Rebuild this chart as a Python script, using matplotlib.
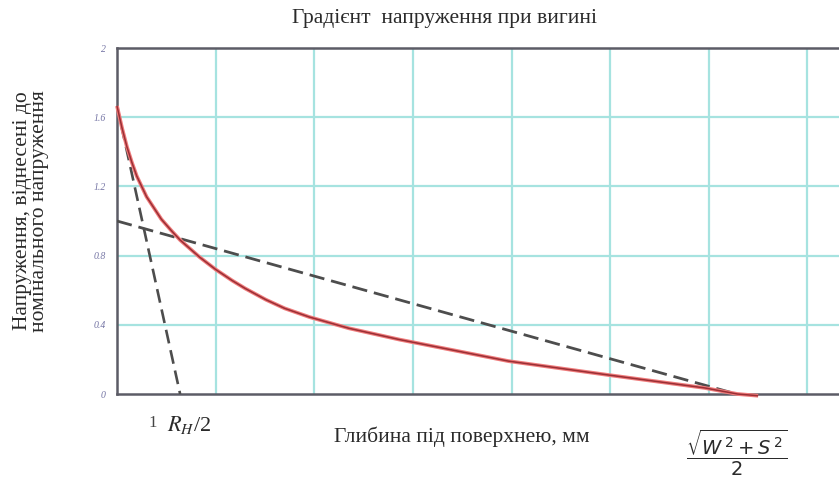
import matplotlib
matplotlib.use("Agg")
import matplotlib.pyplot as plt
from matplotlib.transforms import blended_transform_factory

plt.rcParams["lines.scale_dashes"] = False
plt.rcParams["mathtext.fontset"] = "dejavusans"

# Stress ratio vs. depth below the surface (depth in grid units)
depth = [0.0, 0.05, 0.1, 0.15, 0.2, 0.3, 0.45, 0.55, 0.64, 0.74, 0.84, 1.0,
         1.17, 1.3, 1.51, 1.7, 1.95, 2.35, 2.86, 3.26, 3.97, 4.98, 5.96,
         6.29, 6.5]
stress_ratio = [1.665, 1.54, 1.43, 1.34, 1.26, 1.14, 1.01, 0.945, 0.89, 0.84,
                0.79, 0.72, 0.655, 0.61, 0.545, 0.495, 0.445, 0.38, 0.315,
                0.27, 0.19, 0.11, 0.035, 0.0, -0.01]

# Linear approximations: steep surface tangent and the nominal bending line
tangent_x = [0.0, 0.64]
tangent_y = [1.665, 0.0]
nominal_x = [0.0, 6.28]
nominal_y = [1.0, 0.0]

y_ticks = [0, 0.4, 0.8, 1.2, 1.6, 2]
y_tick_labels = ["0", "0.4", "0.8", "1.2", "1.6", "2"]
x_grid = [1, 2, 3, 4, 5, 6, 7]

W, H = 839, 484
fig = plt.figure(figsize=(W / 100, H / 100), dpi=100)
ax = fig.add_axes([117 / W, 1 - 394 / H, 722 / W, 346 / H])

ax.set_xlim(0, 7.32)
ax.set_ylim(0, 2)

grid_col = "#a6e3e0"
for gx in x_grid:
    ax.axvline(gx, color=grid_col, lw=1.6, zorder=1)
for gy in y_ticks[1:-1]:
    ax.axhline(gy, color=grid_col, lw=1.6, zorder=1)

ax.plot(tangent_x, tangent_y, color="#4d4d4d", lw=1.9, dashes=(10, 5), zorder=3)
ax.plot(nominal_x, nominal_y, color="#4d4d4d", lw=2.0, dashes=(11, 5), zorder=3)
ax.plot(depth, stress_ratio, color="#ef7b7b", lw=2.7, zorder=4,
        solid_capstyle="butt", solid_joinstyle="round", clip_on=False)
ax.plot(depth, stress_ratio, color="#9b2f35", lw=1.1, zorder=5,
        solid_capstyle="butt", solid_joinstyle="round", clip_on=False)

ax.set_xticks(x_grid)
ax.set_xticklabels([])
ax.tick_params(axis="x", length=0)
ax.set_yticks(y_ticks)
ax.set_yticklabels(y_tick_labels, fontsize=7, fontstyle="italic",
                   color="#7474a4", family="Liberation Serif")
ax.tick_params(axis="y", length=0, pad=8)

for side in ("left", "top", "bottom"):
    ax.spines[side].set_color("#5c5c66")
    ax.spines[side].set_linewidth(1.8)
ax.spines["right"].set_visible(False)

serif = "Liberation Serif"
fs = 15.5
fig.text(445 / W, 1 - 18 / H, "Градієнт  напруження при вигині",
         ha="center", va="center", fontsize=fs, family=serif, color="#2a2a2a")
fig.text(31 / W, 1 - 211 / H,
         "Напруження, віднесені до\nномінального напруження",
         ha="center", va="center", rotation=90, fontsize=fs,
         family=serif, color="#2a2a2a", linespacing=0.8)
fig.text(462 / W, 1 - 437 / H, "Глибина під поверхнею, мм",
         ha="center", va="center", fontsize=fs, family=serif, color="#2a2a2a")

trans = blended_transform_factory(ax.transData, fig.transFigure)
ax.text(0.36, 1 - 423 / H, "1", transform=trans, ha="center", va="center",
        fontsize=12, family=serif, color="#444444")
ax.text(0.505, 1 - 425 / H, r"$\mathit{R_H}$/2", transform=trans,
        ha="left", va="center", fontsize=16, family=serif, color="#2a2a2a",
        math_fontfamily="stix")
ax.text(nominal_x[1], 1 - 453 / H, r"$\dfrac{\sqrt{W^{\,2}+S^{\,2}}}{2}$",
        transform=trans, ha="center", va="center", fontsize=14,
        color="#2a2a2a")

fig.savefig("out.png", dpi=100)
